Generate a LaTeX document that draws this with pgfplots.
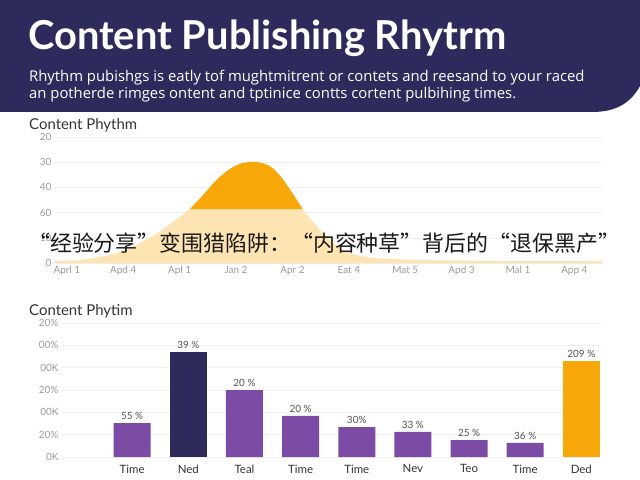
\documentclass[border=0pt]{standalone}
\usepackage{fontspec}
\setmainfont{Lato}
\newfontfamily\subfont{Open Sans}
\newfontfamily\cjk{Noto Sans CJK SC}
\usepackage{pgfplots}
\pgfplotsset{compat=1.18}

\definecolor{navy}{HTML}{2C2B5C}
\definecolor{navybar}{HTML}{2E2A5B}
\definecolor{purp}{HTML}{7B4BA6}
\definecolor{orng}{HTML}{F7A707}
\definecolor{lorng}{HTML}{FDE4B2}
\definecolor{gridc}{HTML}{EFEFEF}
\definecolor{labc}{HTML}{9A9A9A}
\definecolor{dark}{HTML}{333333}

\begin{document}
\begin{tikzpicture}[x=1bp,y=1bp]
\useasboundingbox (0,0) rectangle (640,-480);
\fill[white] (0,0) rectangle (640,-480);

% header band
\fill[navy] (0,0) -- (640,0) -- (640,-86) .. controls (630,-104) and (615,-112) .. (592,-112) -- (0,-112) -- cycle;
\node[anchor=base west, text=white, inner sep=0pt, font=\fontsize{40}{46}\selectfont\bfseries] at (28,-50) {Content Publishing Rhytrm};
\node[anchor=base west, text=white, inner sep=0pt, font=\subfont\fontsize{14.9}{16}\selectfont] at (29,-82) {Rhythm pubishgs is eatly tof mughtmitrent or contets and reesand to your raced};
\node[anchor=base west, text=white, inner sep=0pt, font=\subfont\fontsize{14.9}{16}\selectfont] at (29,-99) {an potherde rimges ontent and tptinice contts cortent pulbihing times.};

% top chart
\node[anchor=base west, text=dark, inner sep=0pt, font=\fontsize{15}{17}\selectfont] at (29,-130) {Content Phythm};
\begin{axis}[
    at={(55bp,-263bp)}, anchor=south west,
    scale only axis, width=547bp, height=126bp,
    xmin=-0.21, xmax=9.49, ymin=0, ymax=5,
    axis line style={draw=none},
    tick style={draw=none},
    ymajorgrids, major grid style={draw=gridc},
    ytick={0,...,5}, yticklabels={0,10,60,40,30,20},
    xtick={0,...,9},
    xticklabels={Aprl 1,Apd 4,Apl 1,Jan 2,Apr 2,Eat 4,Mat 5,Apd 3,Mal 1,App 4},
    tick label style={text=labc, font=\fontsize{10}{12}\selectfont},
    clip=false,
]
\addplot[fill=lorng, draw=none, smooth] coordinates {
    (-0.21,0.08) (0.23,0.12) (0.71,0.30) (1.03,0.52) (1.29,0.79) (1.61,1.19)
    (1.88,1.63) (2.18,2.14) (2.45,2.78) (2.71,3.41) (2.98,3.85) (3.24,4.01)
    (3.46,3.97) (3.69,3.69) (3.95,2.94) (4.18,2.14) (4.43,1.47) (4.66,0.91)
    (4.93,0.48) (5.20,0.28) (5.55,0.18) (6.26,0.12) (7.68,0.08) (9.49,0.08)
} \closedcycle;
\addplot[fill=orng, draw=none] coordinates {
    (2.18,2.14) (2.32,2.46) (2.45,2.78) (2.58,3.12) (2.71,3.41) (2.85,3.67)
    (2.98,3.85) (3.11,3.96) (3.24,4.01) (3.35,4.01) (3.46,3.97) (3.58,3.87)
    (3.69,3.69) (3.82,3.36) (3.95,2.94) (4.07,2.53) (4.18,2.14)
} -- cycle;
\end{axis}

% overlay caption
\node[anchor=west, text=black!90, inner sep=0pt, font=\cjk\fontsize{22}{24}\selectfont] at (28,-243)
    {“经验分享”变围猎陷阱：“内容种草”背后的“退保黑产”};

% bottom chart
\node[anchor=base west, text=dark, inner sep=0pt, font=\fontsize{15}{17}\selectfont] at (29,-315) {Content Phytim};
\begin{axis}[
    at={(62bp,-457bp)}, anchor=south west,
    scale only axis, width=539bp, height=134bp,
    xmin=-1.25, xmax=8.35, ymin=0, ymax=6,
    axis line style={draw=none},
    tick style={draw=none},
    ymajorgrids, major grid style={draw=gridc},
    ytick={0,...,6}, yticklabels={0K,20\%,00K,20\%,00K,00\%,20\%},
    yticklabel style={text=labc, font=\fontsize{10}{12}\selectfont},
    xtick={0,...,8},
    xticklabels={Time,Ned,Teal,Time,Time,Nev,Teo,Time,Ded},
    xticklabel style={text=dark, font=\fontsize{11.5}{13}\selectfont},
    ybar, bar width=37bp, bar shift=0pt,
    nodes near coords, point meta=explicit symbolic,
    every node near coord/.append style={text=dark!85, font=\fontsize{10}{11}\selectfont},
    clip=false,
]
\addplot[fill=purp, draw=none] coordinates {
    (0,1.52) [55 \%] (2,3.00) [20 \%] (3,1.84) [20 \%] (4,1.34) [30\%]
    (5,1.12) [33 \%] (6,0.76) [25 \%] (7,0.63) [36 \%]
};
\addplot[fill=navybar, draw=none] coordinates {(1,4.70) [39 \%]};
\addplot[fill=orng, draw=none] coordinates {(8,4.30) [209 \%]};
\end{axis}
\end{tikzpicture}
\end{document}
